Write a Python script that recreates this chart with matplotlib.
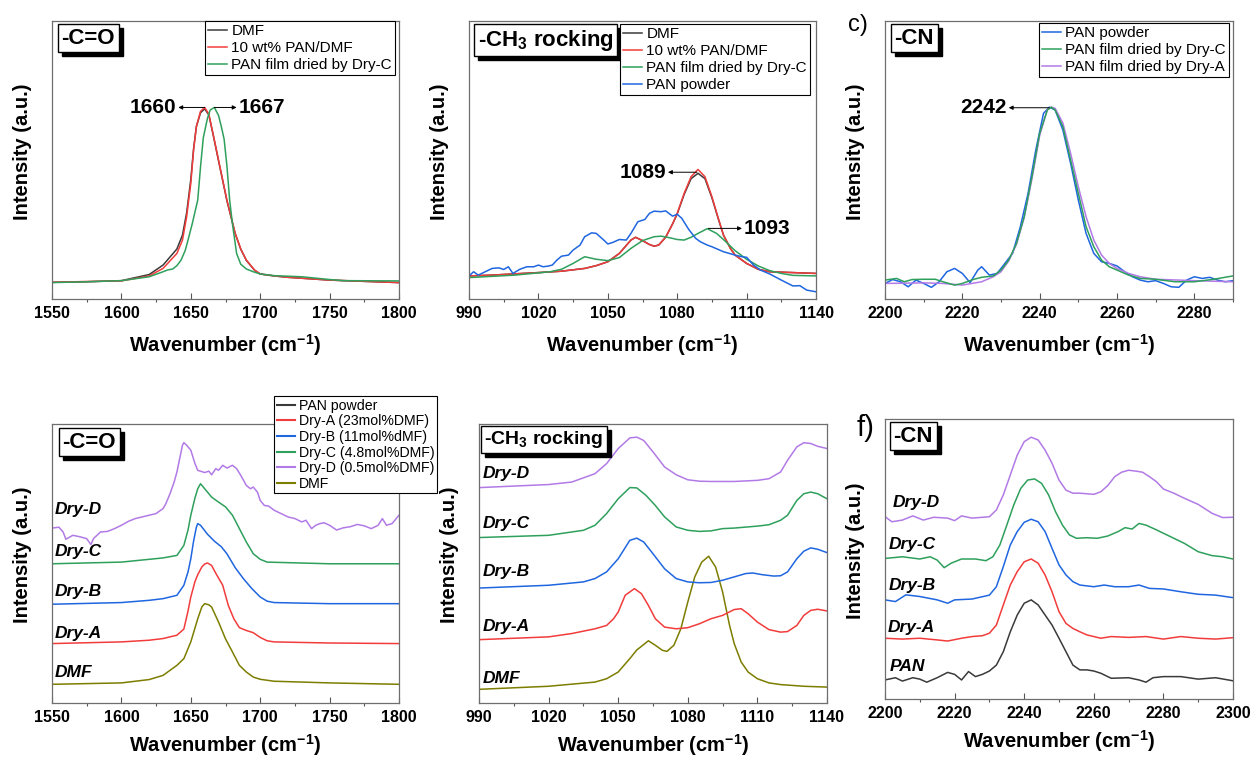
import matplotlib

matplotlib.use("Agg")
import matplotlib.pyplot as plt  # noqa: E402
from matplotlib.lines import Line2D  # noqa: E402
from matplotlib.patches import Rectangle  # noqa: E402
from matplotlib.ticker import MultipleLocator  # noqa: E402
from matplotlib.transforms import IdentityTransform  # noqa: E402

plt.rcParams["font.family"] = ["Liberation Sans", "DejaVu Sans"]
plt.rcParams["mathtext.fontset"] = "custom"
plt.rcParams["mathtext.rm"] = "Liberation Sans"
plt.rcParams["mathtext.bf"] = "Liberation Sans:bold"
plt.rcParams["mathtext.default"] = "regular"

W, H = 1255, 759
RED, BLUE, GREEN, PURPLE, OLIVE, BLACK = ("#f23c3c", "#1f66e0", "#2ea05c", "#b27ae6", "#7d7d00", "#3a3a3a")

# ---- a) -C=O : DMF / solution / film ----
a_x_dmf = [1550, 1575, 1600, 1620, 1630, 1640, 1644, 1647, 1650, 1652, 1654, 1657, 1660,
           1663, 1666, 1671, 1676, 1682, 1686, 1690, 1696, 1700, 1710, 1720, 1750, 1800]
a_y_dmf = [6.0, 6.2, 6.6, 8.8, 12.2, 18.0, 23.0, 31.0, 43.0, 54.0, 62.0, 67.0, 68.4,
           66.2, 59.3, 47.3, 35.4, 23.5, 17.9, 13.9, 10.3, 9.0, 8.3, 7.8, 6.8, 5.9]
a_y_sol = [6.0, 6.3, 6.5, 8.3, 11.0, 16.4, 21.2, 29.6, 41.6, 53.5, 62.0, 67.5, 68.9,
           66.5, 59.5, 47.5, 35.6, 23.6, 18.0, 14.0, 10.4, 9.0, 8.3, 7.8, 6.8, 5.9]
a_x_film = [1550, 1575, 1600, 1620, 1630, 1633, 1637, 1640, 1643, 1646, 1648, 1651, 1655, 1657,
            1659, 1662, 1664, 1667, 1670, 1672, 1674, 1676, 1678, 1680, 1683, 1686, 1690, 1695,
            1700, 1710, 1730, 1750, 1760, 1800]
a_y_film = [5.9, 6.2, 6.6, 8.0, 9.8, 10.4, 10.8, 12.0, 14.0, 17.5, 21.2, 27.0, 35.6, 47.5,
            58.0, 65.0, 68.0, 68.9, 66.0, 62.0, 57.5, 48.0, 35.6, 27.0, 16.4, 12.5, 10.8, 9.8,
            9.0, 8.4, 8.0, 7.0, 6.6, 6.5]

# ---- b) -CH3 rocking ----
b_x_sol = [990, 1000, 1020, 1030, 1040, 1045, 1050, 1055, 1060, 1062, 1065, 1068, 1070, 1072, 1075,
           1078, 1080, 1083, 1086, 1089, 1092, 1095, 1098, 1100, 1103, 1105, 1110, 1115, 1120, 1130, 1140]
b_y_sol = [8.3, 8.6, 9.5, 10.0, 11.0, 12.0, 13.4, 16.4, 21.2, 22.2, 21.0, 19.6, 19.0, 19.4, 22.2,
           27.0, 30.8, 38.0, 44.0, 46.6, 44.0, 36.8, 28.4, 23.0, 18.2, 15.8, 12.8, 10.7, 9.8, 9.5, 9.2]
b_y_dmf = [8.3, 8.6, 9.5, 10.0, 11.0, 12.0, 13.4, 16.4, 21.2, 22.2, 21.0, 19.6, 19.0, 19.4, 22.2,
           27.0, 30.6, 37.6, 43.3, 45.2, 43.3, 36.4, 28.2, 23.0, 18.2, 15.8, 12.8, 10.7, 9.8, 9.5, 9.2]
b_x_film = [990, 1010, 1025, 1030, 1035, 1040, 1045, 1050, 1055, 1060, 1065, 1070, 1073, 1077,
            1080, 1083, 1086, 1089, 1093, 1097, 1100, 1105, 1110, 1115, 1120, 1125, 1130, 1140]
b_y_film = [7.7, 8.6, 9.8, 10.7, 12.8, 15.2, 14.3, 13.8, 14.9, 18.2, 21.0, 22.4, 22.6, 22.0,
            21.4, 21.2, 22.2, 23.6, 25.3, 23.6, 21.4, 17.4, 14.3, 11.9, 10.2, 9.2, 8.5, 8.3]
b_x_pow = [990, 992, 994, 997, 1000, 1003, 1005, 1007, 1009, 1012, 1015, 1018, 1020, 1022, 1024,
           1026, 1028, 1030, 1033, 1035, 1038, 1040, 1043, 1045, 1048, 1050, 1052, 1055, 1058, 1060,
           1063, 1066, 1068, 1070, 1073, 1075, 1078, 1080, 1082, 1085, 1088, 1090, 1093, 1095, 1100,
           1105, 1108, 1110, 1113, 1116, 1120, 1125, 1130, 1133, 1136, 1140]
b_y_pow = [8.3, 9.8, 8.6, 9.8, 11.0, 11.2, 10.6, 11.6, 9.2, 10.7, 11.6, 11.6, 12.2, 11.6, 11.8,
           12.2, 14.0, 15.4, 15.8, 17.6, 19.4, 22.4, 23.8, 23.6, 21.4, 19.8, 20.3, 21.4, 21.2, 23.6,
           27.8, 28.6, 30.8, 31.6, 31.4, 31.7, 29.8, 30.5, 29.0, 25.0, 21.8, 20.6, 19.4, 18.8, 17.0,
           15.8, 15.2, 15.0, 12.2, 10.4, 9.0, 6.8, 4.7, 4.8, 3.2, 2.6]

# ---- c) -CN ----
c_x_pow = [2200, 2202, 2204, 2206, 2208, 2210, 2212, 2214, 2216, 2218, 2220, 2222, 2224, 2225, 2227,
           2229, 2231, 2233, 2235, 2237, 2239, 2241, 2242.5, 2244, 2246, 2248, 2250, 2252, 2254, 2256,
           2258, 2260, 2262, 2264, 2266, 2268, 2270, 2272, 2274, 2276, 2278, 2280, 2282, 2284, 2286,
           2288, 2290]
c_y_pow = [5.6, 7.0, 6.2, 4.4, 6.8, 5.6, 4.2, 6.2, 9.8, 11.0, 9.2, 5.9, 10.4, 11.6, 8.6,
           9.2, 12.8, 16.4, 26.0, 38.0, 53.6, 66.8, 69.0, 68.0, 60.8, 48.8, 35.6, 23.6, 16.4, 13.4,
           12.8, 11.9, 9.8, 8.0, 6.8, 6.2, 6.6, 5.6, 4.4, 4.2, 6.8, 8.0, 7.4, 7.8, 6.8,
           6.2, 6.6]
c_x_dryc = [2200, 2203, 2205, 2207, 2210, 2213, 2215, 2218, 2220, 2223, 2225, 2228, 2230, 2232, 2234,
            2236, 2238, 2240, 2242, 2243, 2244, 2246, 2248, 2250, 2252, 2254, 2256, 2258, 2260, 2263,
            2266, 2270, 2275, 2280, 2285, 2290]
c_y_dryc = [6.8, 7.4, 6.2, 7.0, 7.1, 7.1, 6.2, 5.0, 5.6, 7.1, 7.8, 8.3, 10.4, 14.0, 20.0,
            29.6, 44.0, 59.6, 68.0, 69.0, 68.0, 62.0, 50.0, 38.0, 26.0, 18.8, 14.0, 11.6, 10.4, 8.6,
            7.4, 7.1, 6.2, 6.2, 7.1, 8.3]
c_x_drya = [2200, 2210, 2215, 2220, 2225, 2228, 2230, 2232, 2234, 2236, 2238, 2240, 2242, 2243,
            2244, 2246, 2248, 2250, 2252, 2254, 2256, 2258, 2260, 2263, 2266, 2270, 2280, 2290]
c_y_drya = [5.6, 5.8, 5.6, 5.0, 6.2, 8.0, 9.8, 13.7, 19.7, 29.3, 43.2, 58.8, 68.3, 69.0,
            68.6, 63.3, 52.4, 40.4, 29.6, 21.2, 15.8, 12.8, 11.0, 9.2, 8.0, 7.1, 6.6, 6.2]

# ---- d) -C=O stacked ----
d_x_dmf = [1550, 1600, 1620, 1630, 1640, 1645, 1650, 1655, 1658, 1660, 1663, 1665, 1670, 1675,
           1680, 1685, 1690, 1695, 1700, 1710, 1750, 1800]
d_y_dmf = [6.7, 7.2, 8.4, 9.9, 13.5, 15.9, 21.9, 30.2, 34.5, 35.6, 35.2, 34.4, 29.0, 23.0,
           18.3, 13.5, 11.1, 9.3, 8.5, 7.8, 7.2, 6.7]
d_x_a = [1550, 1600, 1620, 1630, 1640, 1645, 1648, 1650, 1653, 1655, 1658, 1660, 1662, 1665,
         1668, 1673, 1677, 1681, 1685, 1690, 1695, 1700, 1705, 1710, 1750, 1800]
d_y_a = [21.3, 21.9, 22.5, 23.1, 24.3, 26.5, 33.0, 38.0, 43.5, 46.0, 48.8, 49.8, 50.2, 49.3,
         46.5, 42.2, 35.0, 30.2, 27.0, 26.0, 25.2, 23.5, 22.3, 21.9, 21.5, 21.3]
d_x_b = [1550, 1600, 1620, 1630, 1640, 1645, 1648, 1650, 1652, 1654, 1655, 1657, 1662, 1667,
         1672, 1676, 1682, 1688, 1694, 1700, 1705, 1710, 1750, 1800]
d_y_b = [35.4, 36.0, 36.8, 37.4, 38.6, 42.2, 47.0, 51.7, 58.0, 63.0, 64.3, 63.7, 60.5, 58.0,
         56.0, 53.5, 48.5, 44.5, 41.0, 38.0, 36.5, 36.0, 35.6, 35.6]
d_x_c = [1550, 1600, 1620, 1630, 1640, 1645, 1648, 1650, 1653, 1655, 1657, 1660, 1665, 1670,
         1675, 1680, 1685, 1690, 1695, 1700, 1705, 1750, 1800]
d_y_c = [49.9, 50.5, 51.5, 52.0, 52.9, 56.5, 62.0, 67.3, 73.5, 76.8, 78.6, 76.8, 73.8, 72.0,
         70.3, 67.3, 62.5, 57.7, 53.5, 51.5, 50.5, 49.9, 49.9]
d_x_d = [1550, 1555, 1558, 1560, 1565, 1570, 1575, 1578, 1580, 1585, 1590, 1595, 1600, 1605,
         1610, 1615, 1620, 1625, 1630, 1632, 1635, 1638, 1640, 1642, 1644, 1645, 1647, 1650,
         1653, 1655, 1660, 1663, 1665, 1668, 1670, 1673, 1676, 1680, 1683, 1686, 1690, 1693,
         1695, 1698, 1700, 1703, 1706, 1710, 1715, 1720, 1725, 1730, 1733, 1737, 1740, 1743,
         1746, 1750, 1755, 1760, 1765, 1770, 1775, 1780, 1785, 1788, 1791, 1795, 1800]
d_y_d = [62.7, 63.0, 61.3, 58.7, 60.1, 59.6, 58.9, 56.8, 59.0, 61.3, 61.5, 62.5, 63.7, 65.1,
         66.1, 66.7, 67.3, 67.9, 69.7, 71.4, 75.0, 79.2, 82.8, 87.6, 92.4, 93.3, 92.4, 90.6,
         85.8, 83.4, 82.6, 83.1, 81.8, 84.0, 83.4, 85.2, 84.2, 85.2, 84.0, 81.6, 78.0, 76.8,
         77.4, 75.6, 72.6, 70.8, 70.6, 69.1, 67.9, 66.7, 66.1, 64.9, 65.5, 62.5, 63.7, 64.3,
         64.6, 63.7, 62.0, 62.8, 63.2, 64.0, 63.5, 62.5, 63.7, 66.1, 63.7, 64.3, 67.3]

# ---- e) -CH3 rocking stacked ----
e_x_dmf = [990, 1020, 1040, 1045, 1050, 1055, 1058, 1060, 1063, 1066, 1069, 1071, 1074, 1077, 1080,
           1083, 1086, 1089, 1092, 1095, 1098, 1100, 1103, 1106, 1110, 1115, 1120, 1130, 1140]
e_y_dmf = [4.9, 6.0, 7.5, 8.7, 11.1, 15.9, 19.0, 20.3, 22.3, 20.7, 18.9, 18.5, 20.7, 26.6, 36.2,
           45.2, 50.5, 52.6, 48.7, 39.8, 27.8, 21.3, 14.7, 11.1, 8.7, 7.2, 6.6, 6.0, 5.7]
e_x_a = [990, 1020, 1030, 1040, 1045, 1048, 1050, 1053, 1057, 1060, 1063, 1066, 1070, 1075, 1080,
         1085, 1090, 1095, 1100, 1103, 1106, 1110, 1115, 1120, 1123, 1127, 1130, 1133, 1136, 1140]
e_y_a = [22.7, 23.7, 24.9, 26.6, 27.8, 30.2, 32.6, 38.6, 41.0, 39.2, 35.0, 30.2, 27.2, 26.6, 27.0,
         28.4, 30.2, 31.4, 33.5, 33.8, 32.0, 29.0, 26.3, 25.4, 25.6, 27.8, 31.4, 33.2, 33.6, 33.0]
e_x_b = [990, 1020, 1035, 1040, 1045, 1050, 1055, 1058, 1061, 1065, 1070, 1075, 1080, 1085,
         1090, 1095, 1100, 1105, 1108, 1112, 1117, 1120, 1123, 1127, 1130, 1133, 1136, 1140]
e_y_b = [41.2, 42.2, 43.4, 44.6, 47.0, 51.7, 58.3, 59.1, 57.7, 53.5, 48.1, 44.6, 43.4, 43.1,
         43.2, 44.0, 45.2, 46.4, 46.6, 46.0, 45.5, 45.6, 47.0, 51.7, 54.4, 55.6, 55.1, 53.9]
e_x_c = [990, 1020, 1035, 1040, 1045, 1050, 1055, 1058, 1062, 1066, 1070, 1075, 1080, 1085,
         1090, 1095, 1100, 1110, 1115, 1120, 1123, 1127, 1130, 1133, 1136, 1140]
e_y_c = [59.3, 60.1, 61.9, 63.7, 67.9, 73.2, 77.2, 77.1, 74.4, 70.8, 66.7, 63.1, 61.9, 61.5,
         61.7, 62.5, 62.7, 63.4, 63.9, 65.5, 67.3, 72.6, 75.0, 75.6, 75.0, 73.2]
e_x_d = [990, 1020, 1030, 1040, 1045, 1050, 1055, 1058, 1061, 1065, 1070, 1075, 1080, 1085,
         1090, 1100, 1110, 1115, 1120, 1123, 1127, 1130, 1133, 1136, 1140]
e_y_d = [77.2, 78.3, 79.2, 82.2, 85.8, 91.2, 95.0, 95.3, 94.1, 90.0, 84.6, 81.8, 80.0, 79.5,
         79.4, 79.4, 79.8, 80.4, 82.8, 87.0, 91.8, 93.3, 93.0, 92.0, 91.2]

# ---- f) -CN stacked ----
f_x_pan = [2200, 2203, 2205, 2208, 2210, 2212, 2215, 2218, 2220, 2222, 2224, 2226, 2228, 2230,
           2232, 2234, 2236, 2238, 2240, 2242, 2244, 2246, 2248, 2250, 2252, 2254, 2256, 2258,
           2260, 2262, 2265, 2270, 2273, 2275, 2277, 2280, 2285, 2290, 2295, 2300]
f_y_pan = [6.8, 7.6, 6.4, 7.6, 7.1, 6.0, 7.6, 9.5, 8.8, 6.8, 9.8, 8.0, 8.8, 10.0,
           12.1, 16.9, 24.0, 30.0, 34.2, 35.4, 33.6, 30.0, 26.4, 21.7, 16.9, 12.1, 10.4, 10.4,
           10.0, 9.2, 7.4, 7.6, 6.8, 6.0, 7.6, 8.0, 8.0, 7.1, 7.6, 6.5]
f_x_a = [2200, 2205, 2210, 2215, 2218, 2222, 2225, 2228, 2230, 2232, 2234, 2236, 2238, 2240,
         2242, 2244, 2246, 2248, 2250, 2252, 2254, 2256, 2258, 2260, 2262, 2265, 2270, 2275,
         2280, 2285, 2290, 2295, 2300]
f_y_a = [21.7, 21.4, 21.7, 21.1, 20.7, 21.7, 22.3, 22.6, 23.5, 26.4, 33.6, 40.7, 45.5, 49.0,
         50.0, 48.5, 44.3, 38.3, 31.2, 27.0, 25.2, 24.0, 22.9, 22.3, 21.7, 22.3, 22.0, 22.3,
         21.4, 22.3, 21.7, 21.4, 21.9]
f_x_b = [2200, 2203, 2206, 2210, 2215, 2218, 2220, 2225, 2230, 2232, 2234, 2236, 2238, 2240,
         2242, 2244, 2246, 2248, 2250, 2252, 2254, 2256, 2260, 2263, 2266, 2270, 2273, 2276,
         2280, 2285, 2290, 2295, 2300]
f_y_b = [35.4, 34.8, 37.2, 36.6, 35.4, 34.2, 35.4, 35.7, 37.1, 40.1, 47.3, 55.0, 59.8, 63.1,
         64.2, 63.3, 59.8, 53.8, 47.9, 44.3, 41.9, 40.7, 40.1, 40.7, 40.1, 40.1, 40.7, 39.5,
         39.3, 38.3, 37.4, 37.1, 36.2]
f_x_c = [2200, 2205, 2210, 2213, 2215, 2217, 2219, 2222, 2226, 2229, 2231, 2233, 2235, 2237,
         2239, 2241, 2243, 2245, 2247, 2249, 2251, 2253, 2255, 2258, 2261, 2264, 2267, 2269,
         2271, 2273, 2275, 2278, 2282, 2286, 2290, 2294, 2297, 2300]
f_y_c = [50.2, 50.8, 50.0, 50.8, 49.6, 46.9, 48.5, 50.0, 50.0, 49.4, 50.8, 55.0, 62.1, 69.3,
         75.2, 78.2, 78.6, 77.0, 72.9, 66.9, 62.1, 58.6, 57.4, 57.6, 57.4, 58.2, 59.8, 61.2,
         60.7, 62.7, 62.1, 60.4, 58.0, 55.6, 52.6, 51.2, 50.8, 50.0]
f_x_d = [2200, 2202, 2205, 2208, 2211, 2214, 2218, 2220, 2222, 2225, 2228, 2230, 2232, 2234,
         2236, 2238, 2240, 2242, 2244, 2246, 2248, 2250, 2252, 2254, 2256, 2258, 2260, 2262,
         2264, 2266, 2268, 2270, 2272, 2274, 2276, 2278, 2280, 2283, 2286, 2290, 2294, 2297, 2300]
f_y_d = [65.1, 63.3, 63.9, 65.4, 63.9, 64.9, 64.6, 63.7, 65.4, 64.6, 64.9, 65.1, 67.5, 72.9,
         80.0, 87.1, 91.9, 93.5, 92.5, 88.9, 84.2, 78.2, 74.6, 73.5, 73.5, 73.3, 73.1, 74.0,
         76.2, 79.4, 81.0, 81.7, 81.4, 81.0, 79.4, 77.6, 75.0, 73.5, 71.7, 69.5, 66.3, 64.8, 64.9]

fig = plt.figure(figsize=(W / 100, H / 100), dpi=100)
fig.patch.set_facecolor("white")
TAGS = []


def panel(left, top, right, bottom, xlim, major, minor, xpad=8):
    ax = fig.add_axes([left / W, 1 - bottom / H, (right - left) / W, (bottom - top) / H])
    ax.set_xlim(*xlim)
    ax.set_ylim(0, 100)
    ax.xaxis.set_major_locator(MultipleLocator(major))
    ax.xaxis.set_minor_locator(MultipleLocator(minor))
    ax.tick_params(axis="x", which="major", direction="in", length=4, width=0.8,
                   labelsize=11.5, pad=5, color="#555555")
    ax.tick_params(axis="x", which="minor", direction="out", length=2.5, width=0.8, color="#555555")
    ax.tick_params(axis="y", which="both", left=False, labelleft=False)
    for lab in ax.get_xticklabels():
        lab.set_fontweight("bold")
    for sp in ax.spines.values():
        sp.set_color("#6e6e6e")
        sp.set_linewidth(0.9)
    ax.set_xlabel("Wavenumber (cm$^{-1}$)", fontsize=14.5, fontweight="bold", labelpad=xpad)
    ax.set_ylabel("Intensity (a.u.)", fontsize=14.5, fontweight="bold")
    ax.yaxis.set_label_coords(-0.057, 0.53)
    return ax


def tag(ax, s, dx, dy, size=16):
    # white label box; its black drop shadow is added after the first draw
    pad = 0.16 * size * 100 / 72
    t = ax.annotate(s, xy=(0, 1), xycoords="axes fraction", textcoords="offset pixels",
                    xytext=(dx + pad, -(dy + pad)), ha="left", va="top", fontsize=size,
                    fontweight="bold", zorder=7,
                    bbox=dict(boxstyle="square,pad=0.16", fc="white", ec="black", lw=1))
    TAGS.append((ax, t))


def peak(ax, x0, y0, x1, label, side):
    ax.annotate("", xy=(x1, y0), xytext=(x0, y0),
                arrowprops=dict(arrowstyle="-|>", lw=0.7, color="black", mutation_scale=6,
                                shrinkA=0, shrinkB=0))
    gap = (ax.get_xlim()[1] - ax.get_xlim()[0]) * 0.006
    if side == "left":
        ax.text(x1 - gap, y0, label, ha="right", va="center", fontsize=15, fontweight="bold")
    else:
        ax.text(x1 + gap, y0, label, ha="left", va="center", fontsize=15, fontweight="bold")


def legend(ax, handles, labels, x, y, loc, size=11, spacing=0.2):
    leg = ax.legend(handles, labels, loc=loc, bbox_to_anchor=(x / W, 1 - y / H),
                    bbox_transform=fig.transFigure, fontsize=size, frameon=True, fancybox=False,
                    framealpha=1, borderaxespad=0, handlelength=1.25, handletextpad=0.3,
                    labelspacing=spacing, borderpad=0.2)
    leg.get_frame().set_edgecolor("black")
    leg.get_frame().set_linewidth(0.8)
    leg.set_zorder(10)
    return leg


LW = 1.1

# a)
ax = panel(52, 21, 399, 299, (1550, 1800), 50, 25)
l1, = ax.plot(a_x_dmf, a_y_dmf, color=BLACK, lw=LW)
l2, = ax.plot(a_x_dmf, a_y_sol, color=RED, lw=LW)
l3, = ax.plot(a_x_film, a_y_film, color=GREEN, lw=LW)
tag(ax, "-C=O", 6, 3)
peak(ax, 1660, 68.9, 1641, "1660", "left")
peak(ax, 1667, 68.9, 1683, "1667", "right")
legend(ax, [l1, l2, l3], ["DMF", "10 wt% PAN/DMF", "PAN film dried by Dry-C"], 395, 21, "upper right")

# b)
ax = panel(469, 21, 816, 299, (990, 1140), 30, 15)
l1, = ax.plot(b_x_sol, b_y_dmf, color=BLACK, lw=LW)
l2, = ax.plot(b_x_sol, b_y_sol, color=RED, lw=LW)
l3, = ax.plot(b_x_film, b_y_film, color=GREEN, lw=LW)
l4, = ax.plot(b_x_pow, b_y_pow, color=BLUE, lw=LW)
tag(ax, r"-CH$_\mathbf{3}$ rocking", 5, 3)
peak(ax, 1088.5, 45.6, 1076, "1089", "left")
peak(ax, 1093.5, 25.4, 1108, "1093", "right")
legend(ax, [l1, l2, l3, l4], ["DMF", "10 wt% PAN/DMF", "PAN film dried by Dry-C", "PAN powder"],
       810, 24, "upper right")

# c)
ax = panel(885, 21, 1233, 299, (2200, 2290), 20, 10)
l1, = ax.plot(c_x_pow, c_y_pow, color=BLUE, lw=LW)
l3, = ax.plot(c_x_drya, c_y_drya, color=PURPLE, lw=LW)
l2, = ax.plot(c_x_dryc, c_y_dryc, color=GREEN, lw=LW)
tag(ax, "-CN", 6, 3)
peak(ax, 2242.5, 68.8, 2232, "2242", "left")
legend(ax, [l1, l2, l3], ["PAN powder", "PAN film dried by Dry-C", "PAN film dried by Dry-A"],
       1229, 23, "upper right")
fig.text(848 / W, 1 - 14 / H, "c)", fontsize=17, va="top", ha="left")

# d)
ax = panel(52, 424, 399, 703, (1550, 1800), 50, 25, xpad=5)
ax.plot(d_x_dmf, d_y_dmf, color=OLIVE, lw=LW)
ax.plot(d_x_a, d_y_a, color=RED, lw=LW)
ax.plot(d_x_b, d_y_b, color=BLUE, lw=LW)
ax.plot(d_x_c, d_y_c, color=GREEN, lw=LW)
ax.plot(d_x_d, d_y_d, color=PURPLE, lw=LW)
tag(ax, "-C=O", 7, 4)
for s, y in [("Dry-D", 69.2), ("Dry-C", 54.2), ("Dry-B", 39.9), ("Dry-A", 25.0), ("DMF", 11.0)]:
    ax.text(1552, y, s, fontsize=12.5, fontweight="bold", fontstyle="italic", ha="left", va="center")
d_names = ["PAN powder", "Dry-A (23mol%DMF)", "Dry-B (11mol%dMF)", "Dry-C (4.8mol%DMF)",
           "Dry-D (0.5mol%DMF)", "DMF"]
d_cols = [BLACK, RED, BLUE, GREEN, PURPLE, OLIVE]
handles = [Line2D([], [], color=c, lw=1.5) for c in d_cols]
legend(ax, handles, d_names, 274, 396, "upper left", size=10.2, spacing=0.11)

# e)
ax = panel(479, 424, 827, 703, (990, 1140), 30, 15, xpad=5)
ax.plot(e_x_dmf, e_y_dmf, color=OLIVE, lw=LW)
ax.plot(e_x_a, e_y_a, color=RED, lw=LW)
ax.plot(e_x_b, e_y_b, color=BLUE, lw=LW)
ax.plot(e_x_c, e_y_c, color=GREEN, lw=LW)
ax.plot(e_x_d, e_y_d, color=PURPLE, lw=LW)
tag(ax, r"-CH$_\mathbf{3}$ rocking", 2, 2, size=14)
for s, y in [("Dry-D", 82.3), ("Dry-C", 64.4), ("Dry-B", 47.1), ("Dry-A", 27.3), ("DMF", 8.8)]:
    ax.text(991.5, y, s, fontsize=12.5, fontweight="bold", fontstyle="italic", ha="left", va="center")

# f)
ax = panel(885, 419, 1233, 699, (2200, 2300), 20, 10, xpad=5)
ax.plot(f_x_pan, f_y_pan, color=BLACK, lw=LW)
ax.plot(f_x_a, f_y_a, color=RED, lw=LW)
ax.plot(f_x_b, f_y_b, color=BLUE, lw=LW)
ax.plot(f_x_c, f_y_c, color=GREEN, lw=LW)
ax.plot(f_x_d, f_y_d, color=PURPLE, lw=LW)
tag(ax, "-CN", 5, 3)
for s, x, y in [("Dry-D", 2202.2, 70.2), ("Dry-C", 2201.2, 55.0), ("Dry-B", 2201.0, 40.7),
                ("Dry-A", 2200.7, 25.5), ("PAN", 2201.4, 11.5)]:
    ax.text(x, y, s, fontsize=12.5, fontweight="bold", fontstyle="italic", ha="left", va="center")
fig.text(857 / W, 1 - 414 / H, "f)", fontsize=21, va="top", ha="left")

# drop shadows behind the label boxes (display pixels, figure dpi == save dpi)
fig.canvas.draw()
for ax, t in TAGS:
    bb = t.get_bbox_patch().get_window_extent()
    ax.add_patch(Rectangle((bb.x0 + 4, bb.y0 - 4), bb.width, bb.height,
                           transform=IdentityTransform(), fc="black", ec="black", lw=1,
                           zorder=6, clip_on=False))

fig.savefig("out.png", dpi=100)
